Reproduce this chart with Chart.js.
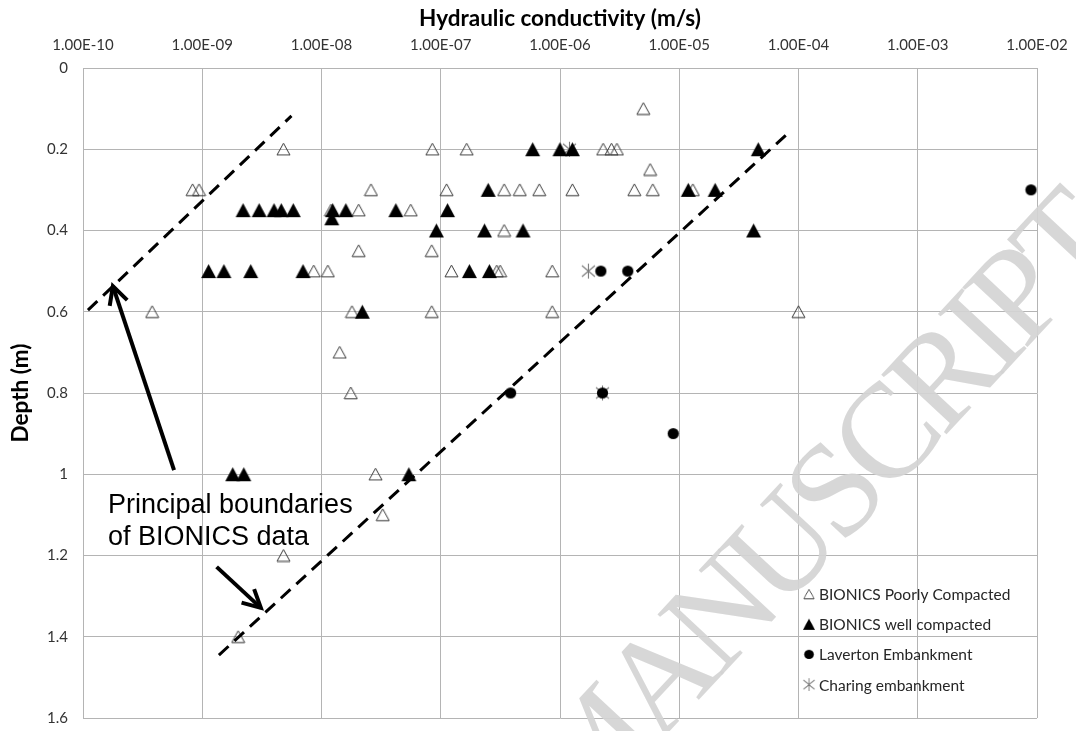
<!DOCTYPE html>
<html><head><meta charset="utf-8">
<script src="https://cdn.jsdelivr.net/npm/chart.js@4.4.1/dist/chart.umd.min.js"></script>
<style>html,body{margin:0;padding:0;background:#fff;}</style>
</head><body>
<canvas id="c" width="1076" height="731"></canvas>
<script>
// ---------- data ----------
const xTickValues = [1e-10, 1e-9, 1e-8, 1e-7, 1e-6, 1e-5, 1e-4, 1e-3, 1e-2];
const xTickLabels = ['1.00E-10','1.00E-09','1.00E-08','1.00E-07','1.00E-06','1.00E-05','1.00E-04','1.00E-03','1.00E-02'];
const yTickValues = [0, 0.2, 0.4, 0.6, 0.8, 1.0, 1.2, 1.4, 1.6];
const yTickLabels = ['0','0.2','0.4','0.6','0.8','1','1.2','1.4','1.6'];
const seriesNames = ['BIONICS Poorly Compacted','BIONICS well compacted','Laverton Embankment','Charing embankment'];

const poorK = [5.0e-6, 4.8e-9, 8.5e-8, 1.65e-7, 2.3e-6, 2.7e-6, 3.0e-6, 5.7e-6,
  8.3e-10, 9.4e-10, 2.6e-8, 1.12e-7, 3.4e-7, 4.6e-7, 6.7e-7, 1.27e-6, 4.2e-6, 6.0e-6, 1.3e-5,
  1.2e-8, 2.05e-8, 5.6e-8, 3.4e-7, 2.05e-8, 8.4e-8,
  8.6e-9, 1.13e-8, 1.23e-7, 2.95e-7, 3.15e-7, 8.6e-7,
  3.8e-10, 1.8e-8, 8.4e-8, 8.6e-7, 1.0e-4, 1.42e-8, 1.76e-8, 2.84e-8, 3.26e-8, 4.8e-9, 2.0e-9];
const poorDepth = [0.1, 0.2, 0.2, 0.2, 0.2, 0.2, 0.2, 0.25,
  0.3, 0.3, 0.3, 0.3, 0.3, 0.3, 0.3, 0.3, 0.3, 0.3, 0.3,
  0.35, 0.35, 0.35, 0.4, 0.45, 0.45,
  0.5, 0.5, 0.5, 0.5, 0.5, 0.5,
  0.6, 0.6, 0.6, 0.6, 0.6, 0.7, 0.8, 1.0, 1.1, 1.2, 1.4];

const wellK = [5.9e-7, 1.0e-6, 1.27e-6, 4.6e-5,
  2.5e-7, 1.19e-5, 2.0e-5,
  2.2e-9, 3.0e-9, 4.0e-9, 4.6e-9, 5.8e-9, 1.24e-8, 1.6e-8, 4.2e-8, 1.14e-7,
  1.22e-8,
  9.2e-8, 2.33e-7, 4.9e-7, 4.2e-5,
  1.13e-9, 1.52e-9, 2.55e-9, 7.0e-9, 1.74e-7, 2.56e-7,
  2.2e-8,
  1.8e-9, 2.23e-9, 5.4e-8];
const wellDepth = [0.2, 0.2, 0.2, 0.2,
  0.3, 0.3, 0.3,
  0.35, 0.35, 0.35, 0.35, 0.35, 0.35, 0.35, 0.35, 0.35,
  0.37,
  0.4, 0.4, 0.4, 0.4,
  0.5, 0.5, 0.5, 0.5, 0.5, 0.5,
  0.6,
  1.0, 1.0, 1.0];

const lavK = [8.9e-3, 2.2e-6, 3.7e-6, 3.85e-7, 2.27e-6, 8.9e-6];
const lavDepth = [0.3, 0.5, 0.5, 0.8, 0.8, 0.9];

const charK = [1.2e-6, 1.73e-6, 2.27e-6];
const charDepth = [0.2, 0.5, 0.8];

// annotation geometry (data coordinates)
const upperBoundK = [1.1e-10, 5.6e-9];
const upperBoundDepth = [0.596, 0.118];
const lowerBoundK = [1.38e-9, 8.2e-5];
const lowerBoundDepth = [1.445, 0.16];
const arrowTailK = [5.8e-10, 1.32e-9];
const arrowTailDepth = [0.99, 1.228];
const arrowTipK = [1.78e-10, 3.1e-9];
const arrowTipDepth = [0.537, 1.329];
const noteLines = ['Principal boundaries', 'of BIONICS data'];
const noteK = 1.62e-10;
const noteDepth = [1.095, 1.174];

// ---------- markers ----------
function mk(w, h, draw) {
  const c = document.createElement('canvas');
  c.width = w; c.height = h;
  draw(c.getContext('2d'));
  return c;
}
const openTri = mk(15, 14, g => {
  g.beginPath(); g.moveTo(7.5, 1); g.lineTo(14, 12.8); g.lineTo(1, 12.8); g.closePath();
  g.strokeStyle = '#3a3a3a'; g.lineWidth = 1; g.stroke();
});
const fillTri = mk(17, 16, g => {
  g.beginPath(); g.moveTo(8.5, 1); g.lineTo(16, 15); g.lineTo(1, 15); g.closePath();
  g.fillStyle = '#000'; g.fill();
});
const dot = mk(13, 13, g => {
  g.beginPath(); g.arc(6.5, 6.5, 5.6, 0, Math.PI * 2); g.fillStyle = '#000'; g.fill();
});
const star = mk(17, 17, g => {
  g.strokeStyle = '#7a7a7a'; g.lineWidth = 1.1;
  g.beginPath();
  g.moveTo(8.5, 1); g.lineTo(8.5, 16);
  g.moveTo(2, 3); g.lineTo(15, 14);
  g.moveTo(15, 3); g.lineTo(2, 14);
  g.stroke();
});
const markers = [openTri, fillTri, dot, star];

const pts = (xs, ys) => xs.map((v, i) => ({x: v, y: ys[i]}));

const gridColor = '#b4b4b4';
const tickFont = {family: 'Lato', size: 15};
const titleFont = {family: 'Lato', size: 22.5, weight: 'bold'};

// ---------- plugins ----------
const annotPlugin = {
  id: 'annot',
  afterDatasetsDraw(chart) {
    const {ctx, scales: {x, y}} = chart;
    ctx.save();
    ctx.strokeStyle = '#000'; ctx.lineWidth = 4; ctx.lineJoin = 'miter'; ctx.lineCap = 'butt';
    for (let i = 0; i < arrowTailK.length; i++) {
      const x0 = x.getPixelForValue(arrowTailK[i]), y0 = y.getPixelForValue(arrowTailDepth[i]);
      const x1 = x.getPixelForValue(arrowTipK[i]), y1 = y.getPixelForValue(arrowTipDepth[i]);
      ctx.beginPath(); ctx.moveTo(x0, y0); ctx.lineTo(x1, y1); ctx.stroke();
      const a = Math.atan2(y0 - y1, x0 - x1), L = 20, s = 0.48;
      ctx.beginPath();
      ctx.moveTo(x1 + L * Math.cos(a + s), y1 + L * Math.sin(a + s));
      ctx.lineTo(x1, y1);
      ctx.lineTo(x1 + L * Math.cos(a - s), y1 + L * Math.sin(a - s));
      ctx.stroke();
    }
    ctx.fillStyle = '#000';
    ctx.font = "27px 'Liberation Sans'";
    ctx.textAlign = 'left'; ctx.textBaseline = 'alphabetic';
    noteLines.forEach((t, i) => ctx.fillText(t, x.getPixelForValue(noteK), y.getPixelForValue(noteDepth[i])));

    // legend
    ctx.font = "15.5px Lato";
    ctx.fillStyle = '#262626';
    ctx.textBaseline = 'middle';
    const lx = 809, ly = 594, step = 30.2;
    chart.data.datasets.slice(0, 4).forEach((d, i) => {
      const m = markers[i];
      const sc = i < 2 ? 0.8 : 0.85;
      const w = m.width * sc, h = m.height * sc;
      ctx.drawImage(m, lx - w / 2, ly + i * step - h / 2, w, h);
      ctx.fillText(d.label, lx + 10, ly + i * step + 1);
    });
    ctx.restore();
  },
  afterDraw(chart) {
    const ctx = chart.ctx;
    ctx.save();
    ctx.translate(582, 825);
    ctx.rotate(-47 * Math.PI / 180);
    ctx.font = "135px 'Liberation Serif'";
    try { ctx.letterSpacing = '-8px'; } catch (e) {}
    ctx.fillStyle = 'rgba(212,212,212,0.92)';
    ctx.textAlign = 'left'; ctx.textBaseline = 'alphabetic';
    ctx.fillText('MANUSCRIPT', 0, 0);
    ctx.restore();
  }
};

// ---------- chart ----------
new Chart(document.getElementById('c'), {
  type: 'scatter',
  data: {
    datasets: [
      {label: seriesNames[0], data: pts(poorK, poorDepth), pointStyle: openTri, order: 2},
      {label: seriesNames[1], data: pts(wellK, wellDepth), pointStyle: fillTri, order: 1},
      {label: seriesNames[2], data: pts(lavK, lavDepth), pointStyle: dot, order: 0},
      {label: seriesNames[3], data: pts(charK, charDepth), pointStyle: star, order: 3},
      {label: 'upper', data: pts(upperBoundK, upperBoundDepth), showLine: true, pointRadius: 0,
        borderColor: '#000', borderWidth: 3, borderDash: [13, 8], order: -1},
      {label: 'lower', data: pts(lowerBoundK, lowerBoundDepth), showLine: true, pointRadius: 0,
        borderColor: '#000', borderWidth: 3, borderDash: [13, 8], order: -1}
    ]
  },
  options: {
    responsive: false,
    animation: false,
    events: [],
    layout: {padding: {left: 0, top: 0, right: 39, bottom: 13}},
    plugins: {legend: {display: false}, tooltip: {enabled: false}},
    scales: {
      x: {
        type: 'logarithmic', position: 'top', min: 1e-10, max: 1e-2,
        afterBuildTicks: s => { s.ticks = xTickValues.map(v => ({value: v})); },
        afterFit: s => { s.height = 68; },
        ticks: {callback: (v, i) => xTickLabels[i], font: tickFont, color: '#333', padding: 0,
          maxRotation: 0, autoSkip: false},
        grid: {color: gridColor, lineWidth: 1, drawTicks: true, tickLength: 14, tickColor: 'rgba(0,0,0,0)'},
        border: {display: true, color: gridColor},
        title: {display: true, text: 'Hydraulic conductivity (m/s)', font: titleFont, color: '#000',
          padding: {top: 5, bottom: 0}}
      },
      y: {
        type: 'linear', position: 'left', reverse: true, min: 0, max: 1.6,
        afterBuildTicks: s => { s.ticks = yTickValues.map(v => ({value: v})); },
        afterFit: s => { s.width = 83; },
        ticks: {callback: (v, i) => yTickLabels[i], font: tickFont, color: '#333', padding: 0, autoSkip: false},
        grid: {color: gridColor, lineWidth: 1, drawTicks: true, tickLength: 15, tickColor: 'rgba(0,0,0,0)'},
        border: {display: true, color: gridColor},
        title: {display: true, text: 'Depth (m)', font: titleFont, color: '#000', padding: {top: 7, bottom: 0}}
      }
    }
  },
  plugins: [annotPlugin]
});
</script>
</body></html>
